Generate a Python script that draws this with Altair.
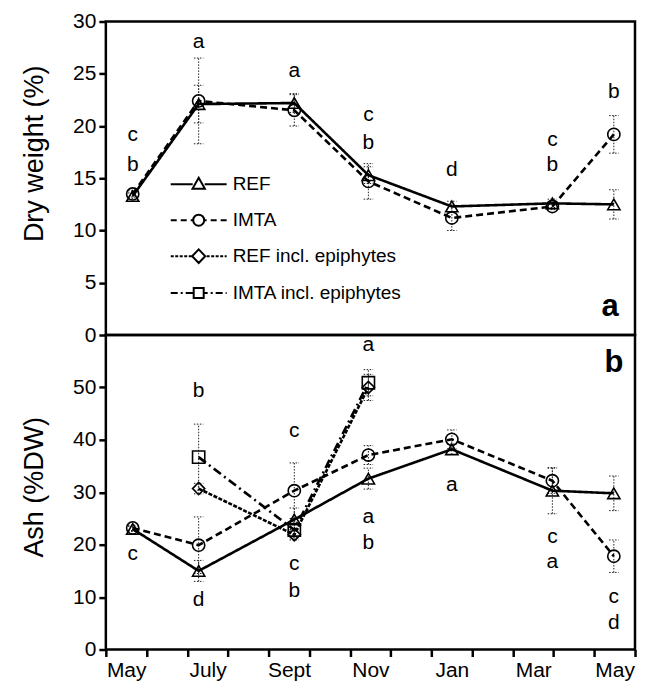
import altair as alt
import pandas as pd

FONT = "Liberation Sans"
SERIES = ["REF", "IMTA", "REF incl. epiphytes", "IMTA incl. epiphytes"]
MONTH_LABELS = ["May", "", "July", "", "Sept", "", "Nov", "", "Jan", "", "Mar", "", "May", ""]

# sampling dates (months after 1 May)
sample_x = [0.66, 2.28, 4.63, 6.45, 8.5, 10.97, 12.48]
epi_x = [2.28, 4.63, 6.45]

# (a) Dry weight (%)
dw_ref = [13.3, 22.1, 22.2, 15.3, 12.3, 12.6, 12.5]
dw_ref_err = [0.3, 1.8, 0.9, 0.8, 0.5, 0.4, 1.4]
dw_imta = [13.5, 22.4, 21.5, 14.7, 11.2, 12.3, 19.2]
dw_imta_err = [0.3, 4.1, 1.5, 1.7, 1.2, 0.3, 1.8]

# (b) Ash (%DW)
ash_ref = [23.0, 15.0, 24.8, 32.6, 38.2, 30.3, 29.8]
ash_ref_err = [0.5, 2.0, 2.2, 2.0, 1.0, 4.4, 3.3]
ash_imta = [23.2, 19.9, 30.3, 37.1, 40.1, 32.2, 17.8]
ash_imta_err = [0.5, 5.4, 5.3, 1.8, 1.8, 2.4, 3.1]
ash_refepi = [30.7, 21.9, 50.0]
ash_refepi_err = [1.0, 1.0, 2.5]
ash_imtaepi = [36.7, 22.8, 50.9]
ash_imtaepi_err = [6.3, 1.5, 2.5]

# significance letters
top_lbl_x = [0.66, 0.66, 2.28, 4.63, 6.45, 6.45, 8.5, 10.97, 10.97, 12.48]
top_lbl_y = [19.1, 16.3, 28.0, 25.3, 21.1, 18.4, 15.8, 18.7, 16.3, 23.3]
top_lbl_t = ["c", "b", "a", "a", "c", "b", "d", "c", "b", "b"]

bot_lbl_x = [0.66, 2.28, 2.28, 4.63, 4.63, 4.63, 6.45, 6.45, 6.45, 8.5, 10.97, 10.97, 12.48, 12.48]
bot_lbl_y = [18.2, 49.4, 9.4, 41.6, 16.3, 11.2, 58.1, 25.3, 20.4, 31.3, 21.5, 16.7, 10.1, 5.1]
bot_lbl_t = ["c", "b", "d", "c", "c", "b", "a", "a", "b", "a", "c", "a", "c", "d"]


def rows(series, xs, ys, errs):
    return [dict(series=series, x=a, y=b, lo=b - e, hi=b + e) for a, b, e in zip(xs, ys, errs)]


top_df = pd.DataFrame(rows("REF", sample_x, dw_ref, dw_ref_err) + rows("IMTA", sample_x, dw_imta, dw_imta_err))
bot_df = pd.DataFrame(
    rows("REF", sample_x, ash_ref, ash_ref_err)
    + rows("IMTA", sample_x, ash_imta, ash_imta_err)
    + rows("REF incl. epiphytes", epi_x, ash_refepi, ash_refepi_err)
    + rows("IMTA incl. epiphytes", epi_x, ash_imtaepi, ash_imtaepi_err)
)

# ---- legend symbol paths (line + marker); symbol unit = 10 px (size 400)
UNIT = 10.0
HALF = 28.0


def dash_path(pattern, gap_lo, gap_hi):
    segs = []
    pos = -HALF
    i = 0
    on = True
    while pos < HALF:
        ln = pattern[i % len(pattern)]
        end = min(pos + ln, HALF)
        if on:
            for a, b in ((pos, min(end, gap_lo)), (max(pos, gap_hi), end)):
                if b > a:
                    segs.append("M%.3f,0H%.3f" % (a / UNIT, b / UNIT))
        pos = end
        on = not on
        i += 1
    return "".join(segs)


tri = "M0,-0.65L0.62,0.45L-0.62,0.45Z"
circ = "M0.55,0A0.55,0.55 0 1,1 -0.55,0A0.55,0.55 0 1,1 0.55,0Z"
diam = "M0,-0.68L0.65,0L0,0.68L-0.65,0Z"
sq = "M-0.5,-0.5H0.5V0.5H-0.5Z"
LEG_PATHS = [
    dash_path([100], -6, 6) + tri,
    dash_path([6, 4], -5.5, 5.5) + circ,
    dash_path([3, 1.5], -6.5, 6.5) + diam,
    dash_path([7, 3, 2, 3], -5, 5) + sq,
]

DASHES = [[1, 0], [7, 4], [4, 1.5], [9, 4, 2, 4]]
SHAPES = ["triangle-up", "circle", "diamond", "square"]

W = 530
MONTH_PX = W / 13.0


def panel(df, lx, ly, lt, ydom, yvals, ytitle, h, bottom, letter, letter_xy, title_y, legend):
    xaxis = None
    if bottom:
        xaxis = alt.Axis(
            values=list(range(14)),
            labelExpr="%s[datum.value]" % str(MONTH_LABELS),
            labelOffset={"condition": {"test": "datum.value >= 13", "value": 0}, "value": MONTH_PX / 2},
            labelFlush=False,
            labelFontSize=21,
            title=None,
            domain=False,
        )
    x = alt.X("x:Q", scale=alt.Scale(domain=[0, 13], nice=False, zero=False), axis=xaxis)
    yaxis = alt.Axis(values=yvals, title=ytitle, labelFlush=False, titlePadding=24, titleY=title_y, domain=False)
    yscale = alt.Scale(domain=ydom, nice=False, zero=False)

    base = alt.Chart(df)
    err = base.mark_rule(strokeDash=[1.5, 1.5], strokeWidth=1, color="#222").encode(
        x=x, y=alt.Y("lo:Q", scale=yscale, axis=yaxis), y2="hi:Q"
    )
    caps = (
        base.transform_fold(["lo", "hi"], as_=["k", "v"])
        .mark_point(shape="stroke", size=90, strokeDash=[1.5, 1.5], strokeWidth=1, color="#222", opacity=1)
        .encode(x=x, y=alt.Y("v:Q", scale=yscale, axis=yaxis))
    )
    line = base.mark_line(color="black", strokeWidth=2.6).encode(
        x=x,
        y=alt.Y("y:Q", scale=yscale, axis=yaxis),
        strokeDash=alt.StrokeDash("series:N", scale=alt.Scale(domain=SERIES, range=DASHES), legend=None),
    )
    pts = base.mark_point(filled=False, color="black", size=150, strokeWidth=1.6, opacity=1).encode(
        x=x,
        y=alt.Y("y:Q", scale=yscale, axis=yaxis),
        shape=alt.Shape("series:N", scale=alt.Scale(domain=SERIES, range=SHAPES), legend=None),
    )
    ldf = pd.DataFrame({"x": lx, "y": ly, "t": lt})
    letters = alt.Chart(ldf).mark_text(font=FONT, fontSize=21, color="black", baseline="middle").encode(
        x=x, y=alt.Y("y:Q", scale=yscale, axis=yaxis), text="t:N"
    )
    plab = alt.Chart(pd.DataFrame({"t": [letter]})).mark_text(
        font=FONT, fontSize=31, fontWeight="bold", color="black", baseline="middle", align="center"
    ).encode(x=alt.value(letter_xy[0]), y=alt.value(letter_xy[1]), text="t:N")
    layers = [err, caps, line, pts, letters, plab]
    if legend:
        legdf = pd.DataFrame({"leg": SERIES, "x": [1.0] * 4, "y": [1.0] * 4})
        leg = (
            alt.Chart(legdf)
            .transform_filter("datum.x > 100")
            .mark_point(filled=False, color="black", strokeWidth=2, opacity=1)
            .encode(
                x=x,
                y=alt.Y("y:Q", scale=yscale, axis=yaxis),
                shape=alt.Shape(
                    "leg:N",
                    scale=alt.Scale(domain=SERIES, range=LEG_PATHS),
                    legend=alt.Legend(
                        orient="none",
                        legendX=82,
                        legendY=152,
                        title=None,
                        labelFont=FONT,
                        labelFontSize=19,
                        labelColor="black",
                        labelLimit=0,
                        symbolSize=400,
                        symbolStrokeWidth=2,
                        symbolStrokeColor="black",
                        symbolFillColor="transparent",
                        symbolOpacity=1,
                        rowPadding=15,
                        labelOffset=23,
                        padding=0,
                    ),
                ),
            )
        )
        layers.append(leg)
    return alt.layer(*layers).resolve_scale(shape="independent").properties(width=W, height=h)


top = panel(top_df, top_lbl_x, top_lbl_y, top_lbl_t, [0, 30], [0, 5, 10, 15, 20, 25, 30],
            "Dry weight (%)", 314, False, "a", (W - 25, 286), 132, True)
bot = panel(bot_df, bot_lbl_x, bot_lbl_y, bot_lbl_t, [0, 60], [0, 10, 20, 30, 40, 50],
            "Ash (%DW)", 315, True, "b", (W - 21, 28), 152, False)

chart = (
    alt.vconcat(top, bot, spacing=0, bounds="flush")
    .resolve_scale(shape="independent", strokeDash="independent")
    .properties(padding={"left": 11, "top": 0, "right": 0, "bottom": 0})
    .configure_view(stroke="black", strokeWidth=2.5)
    .configure_axis(
        domain=False,
        tickColor="black",
        tickWidth=2.5,
        tickSize=7,
        labelFont=FONT,
        labelFontSize=21,
        labelColor="black",
        labelPadding=3,
        titleFont=FONT,
        titleFontSize=27,
        titleFontWeight="normal",
        titleColor="black",
        grid=False,
    )
)

chart.save("out.html", embed_options={"renderer": "svg", "actions": False})
